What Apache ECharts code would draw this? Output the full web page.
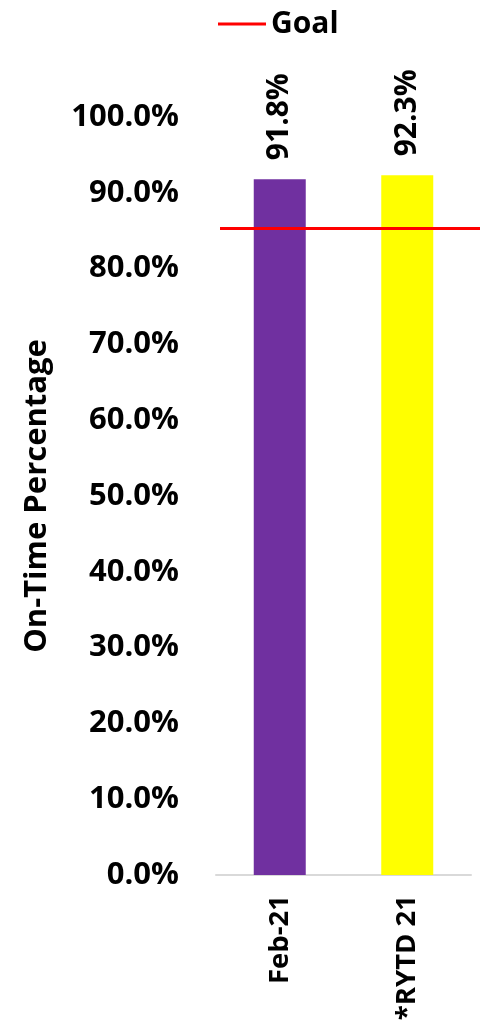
<!DOCTYPE html>
<html>
<head>
<meta charset="utf-8">
<script src="https://cdn.jsdelivr.net/npm/echarts@6/dist/echarts.min.js"></script>
<style>
html,body{margin:0;padding:0;background:#fff;}
#chart{width:485px;height:1023px;}
</style>
</head>
<body>
<div id="chart"></div>
<script>
const categories = ['Feb-21', '*RYTD 21'];
const onTimeValues = [91.8, 92.3];
const barColors = ['#7030a0', '#ffff00'];
const goalValue = 85.3;
const yTicks = [0, 10, 20, 30, 40, 50, 60, 70, 80, 90, 100];

const FONT = '"Open Sans", "Noto Sans", sans-serif';
const chart = echarts.init(document.getElementById('chart'), null, {renderer: 'canvas'});

const option = {
  animation: false,
  backgroundColor: '#ffffff',
  textStyle: {fontFamily: FONT},
  legend: {
    data: ['Goal'],
    left: 213, top: 4,
    icon: 'rect', itemWidth: 48, itemHeight: 3, itemGap: 3,
    textStyle: {fontFamily: FONT, fontWeight: 'bold', fontSize: 30, color: '#000'}
  },
  grid: [
    {left: 216, right: 14, top: 117, bottom: 148, containLabel: false, outerBoundsMode: 'none'},
    {left: 220, right: 5, top: 117, bottom: 148, containLabel: false, outerBoundsMode: 'none'}
  ],
  xAxis: [
    {
      type: 'category', gridIndex: 0, data: categories,
      axisLine: {show: true, lineStyle: {color: '#d9d9d9', width: 2}},
      axisTick: {show: false},
      axisLabel: {rotate: 90, margin: 20, fontFamily: FONT, fontWeight: 'bold', fontSize: 27.5, color: '#000'}
    },
    {type: 'value', gridIndex: 1, min: 0, max: 1, show: false}
  ],
  yAxis: [
    {
      type: 'value', gridIndex: 0, min: yTicks[0], max: yTicks[yTicks.length - 1], interval: 10,
      name: 'On-Time Percentage', nameLocation: 'middle', nameGap: 163, nameRotate: 90,
      nameTextStyle: {fontFamily: FONT, fontWeight: 'bold', fontSize: 31, color: '#000'},
      axisLine: {show: false}, axisTick: {show: false}, splitLine: {show: false},
      axisLabel: {margin: 37, fontFamily: FONT, fontWeight: 'bold', fontSize: 31, color: '#000',
        formatter: v => v.toFixed(1) + '%'}
    },
    {type: 'value', gridIndex: 1, min: yTicks[0], max: yTicks[yTicks.length - 1], show: false}
  ],
  series: [
    {
      name: 'On-Time', type: 'bar', xAxisIndex: 0, yAxisIndex: 0, barWidth: 52,
      data: onTimeValues.map((v, i) => ({value: v, itemStyle: {color: barColors[i]}})),
      label: {
        show: true, position: 'top', rotate: 90, align: 'left', verticalAlign: 'middle', distance: 19,
        fontFamily: FONT, fontWeight: 'bold', fontSize: 30, color: '#000',
        formatter: p => p.value.toFixed(1) + '%'
      }
    },
    {
      name: 'Goal', type: 'line', xAxisIndex: 1, yAxisIndex: 1,
      data: [[0, goalValue], [1, goalValue]],
      symbol: 'none', lineStyle: {color: '#ff0000', width: 3}, itemStyle: {color: '#ff0000'}
    }
  ]
};
chart.setOption(option);
</script>
</body>
</html>
